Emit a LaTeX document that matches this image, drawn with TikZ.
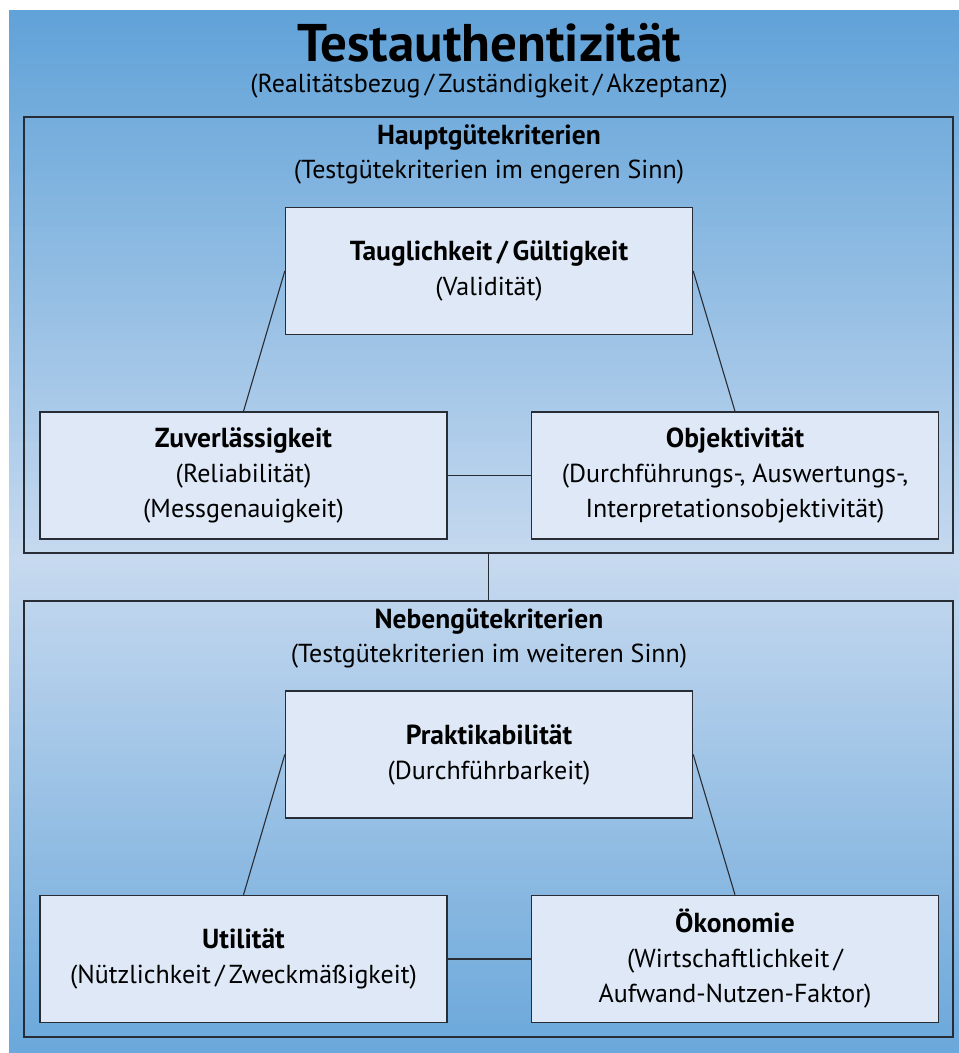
\documentclass[tikz,border=0pt]{standalone}
\usepackage{fontspec}
\setmainfont{PT Sans}
\usetikzlibrary{positioning}

\definecolor{bgblue}{RGB}{96,162,216}
\definecolor{bglight}{RGB}{198,217,239}
\definecolor{boxfill}{RGB}{222,232,246}
\definecolor{linegray}{RGB}{40,44,52}

% bold first line of a box
\newcommand{\crithead}[1]{{\fontsize{27.5}{35}\selectfont\bfseries #1}}

\tikzset{
  critbox/.style={draw=linegray, line width=1.4pt, fill=boxfill,
    minimum width=407pt, minimum height=127pt, inner sep=0pt,
    align=center, font=\fontsize{26}{35}\selectfont},
  framebox/.style={draw=linegray, line width=1.6pt,
    minimum width=929pt, minimum height=436pt, inner sep=0pt},
  headtext/.style={align=center, inner sep=0pt, font=\fontsize{26}{34}\selectfont},
  link/.style={draw=linegray, line width=1.1pt},
}

\begin{document}
\begin{tikzpicture}[x=1pt, y=-1pt]
  \useasboundingbox (0,0) rectangle (959,1053);

  % Background, light in the middle
  \foreach \y in {10,16,...,1052} {
    \pgfmathsetmacro\mixval{max(0,100*(1-abs(\y+3-560)/550))}
    \fill[bglight!\mixval!bgblue] (9,\y) rectangle (959,\y+6.6);
  }

  % Title
  \node[inner sep=0pt] (title) at (489,43) {\fontsize{53}{55}\selectfont\bfseries Testauthentizität};
  \node[headtext] (subtitle) at (489,86)
    {(Realitätsbezug\,/\,Zuständigkeit\,/\,Akzeptanz)};

  % Frames
  \node[framebox] (haupt) at (488.5,335) {};
  \node[framebox] (neben) at (488.5,819) {};

  \node[headtext] (hauptlabel) at (489,154)
    {\crithead{Hauptgütekriterien}\\(Testgütekriterien im engeren Sinn)};
  \node[headtext] (nebenlabel) at (489,638)
    {\crithead{Nebengütekriterien}\\(Testgütekriterien im weiteren Sinn)};

  % Upper boxes
  \node[critbox] (valid) at (489,271)
    {\crithead{Tauglichkeit\,/\,Gültigkeit}\\(Validität)};
  \node[critbox] (reliab) at (243.5,475.5)
    {\crithead{Zuverlässigkeit}\\(Reliabilität)\\(Messgenauigkeit)};
  \node[critbox] (objekt) at (735,475.5)
    {\crithead{Objektivität}\\(Durchführungs-, Auswertungs-,\\Interpretationsobjektivität)};

  % Lower boxes
  \node[critbox] (prakt) at (489,754.5)
    {\crithead{Praktikabilität}\\(Durchführbarkeit)};
  \node[critbox] (util) at (243.5,959)
    {\crithead{Utilität}\\(Nützlichkeit\,/\,Zweckmäßigkeit)};
  \node[critbox] (oekon) at (735,959)
    {\crithead{Ökonomie}\\(Wirtschaftlichkeit\,/\\Aufwand-Nutzen-Faktor)};

  % Connectors
  \draw[link] (valid.west) -- (reliab.north);
  \draw[link] (valid.east) -- (objekt.north);
  \draw[link] (reliab.east) -- (objekt.west);
  \draw[link] (haupt.south) -- (neben.north);
  \draw[link] (prakt.west) -- (util.north);
  \draw[link] (prakt.east) -- (oekon.north);
  \draw[link] (util.east) -- (oekon.west);
\end{tikzpicture}
\end{document}
